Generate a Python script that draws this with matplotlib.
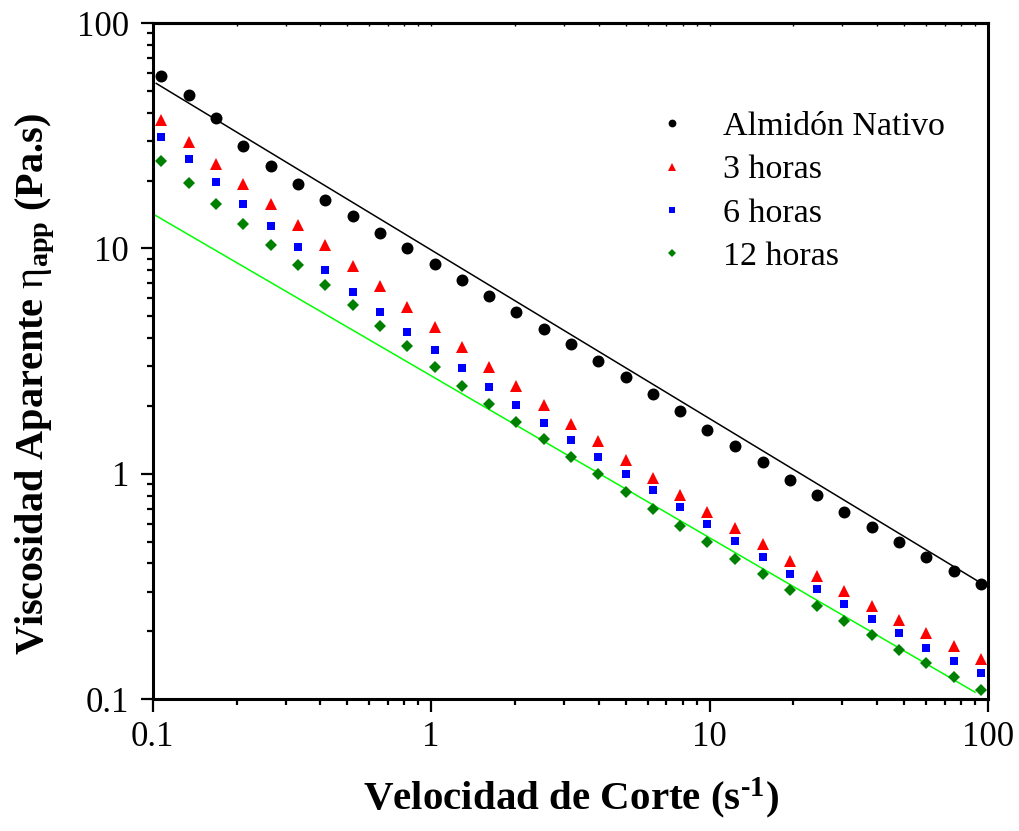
import numpy as np
import matplotlib
matplotlib.use('Agg')
import matplotlib.pyplot as plt

plt.rcParams['font.family'] = ['Liberation Serif', 'DejaVu Serif']
plt.rcParams['mathtext.fontset'] = 'custom'
plt.rcParams['mathtext.rm'] = 'Liberation Serif'
plt.rcParams['mathtext.bf'] = 'Liberation Serif:bold'
plt.rcParams['mathtext.it'] = 'Liberation Serif:italic'

# shear rate (1/s)
shear = [0.107, 0.135, 0.169, 0.211, 0.265, 0.332, 0.416, 0.523, 0.654, 0.819,
         1.03, 1.29, 1.61, 2.02, 2.54, 3.18, 3.99, 5.00, 6.25, 7.83,
         9.82, 12.3, 15.5, 19.4, 24.3, 30.5, 38.2, 47.9, 60.1, 75.4, 94.4]

# apparent viscosity (Pa.s)
nativo = [58.2, 48.1, 38.0, 28.5, 23.2, 19.4, 16.4, 13.9, 11.7, 10.0,
          8.52, 7.23, 6.16, 5.23, 4.40, 3.75, 3.16, 2.69, 2.26, 1.90,
          1.57, 1.33, 1.13, 0.937, 0.801, 0.678, 0.578, 0.497, 0.426, 0.371, 0.324]
h3 = [37.1, 29.7, 23.8, 19.3, 15.7, 12.7, 10.3, 8.37, 6.80, 5.49,
      4.46, 3.65, 2.98, 2.45, 2.02, 1.67, 1.39, 1.15, 0.959, 0.804,
      0.678, 0.572, 0.486, 0.411, 0.351, 0.301, 0.259, 0.224, 0.196, 0.172, 0.150]
h6 = [31.3, 25.0, 19.8, 15.8, 12.6, 10.1, 7.99, 6.42, 5.22, 4.26,
      3.53, 2.93, 2.43, 2.02, 1.68, 1.41, 1.19, 1.00, 0.843, 0.709,
      0.596, 0.502, 0.425, 0.359, 0.308, 0.264, 0.226, 0.196, 0.169, 0.148, 0.130]
h12 = [24.4, 19.6, 15.8, 12.8, 10.3, 8.43, 6.85, 5.58, 4.53, 3.67,
       2.99, 2.45, 2.03, 1.70, 1.42, 1.19, 0.993, 0.829, 0.699, 0.587,
       0.497, 0.419, 0.357, 0.304, 0.259, 0.222, 0.192, 0.165, 0.144, 0.125, 0.110]

# power law fits  eta = K * gamma^(n-1)
K_nativo, m_nativo = 9.84, -0.7485
K_h12, m_h12 = 2.72, -0.7188
fit_nativo_x = [0.103, 94.4]
fit_h12_x = [0.1, 89.9]

fig = plt.figure(figsize=(10.2, 8.31), dpi=100)
ax = fig.add_axes([0.1497, 0.1588, 0.8189, 0.8135])

xn = np.array(fit_nativo_x)
ax.plot(xn, K_nativo*xn**m_nativo, '-', color='black', lw=1.1, zorder=2)
xg = np.array(fit_h12_x)
ax.plot(xg, K_h12*xg**m_h12, '-', color='#00ff00', lw=1.1, zorder=2)

ax.plot(shear, nativo, 'o', color='black', ms=8.6, mew=0, label='Almidón Nativo', zorder=3)
ax.plot(shear, h3, '^', color='red', ms=8.5, mew=0, label='3 horas', zorder=3)
ax.plot(shear, h6, 's', color='blue', ms=6.2, mew=0, label='6 horas', zorder=3)
ax.plot(shear, h12, 'D', color='green', ms=6.2, mew=0, label='12 horas', zorder=3)

ax.set_xscale('log')
ax.set_yscale('log')
ax.set_xlim(0.1, 100)
ax.set_ylim(0.1, 100)
ax.set_xticks([0.1, 1, 10, 100])
ax.set_xticklabels(['0.1', '1', '10', '100'])
ax.set_yticks([0.1, 1, 10, 100])
ax.set_yticklabels(['0.1', '1', '10', '100'])

for s in ax.spines.values():
    s.set_linewidth(2.2)
ax.tick_params(which='major', direction='out', length=9, width=1.6, labelsize=25, pad=7,
               top=False, right=False)
ax.tick_params(which='minor', direction='out', length=4.5, width=1.6, top=False, right=False)
ax.tick_params(axis='y', which='major', pad=8)

# faint inward ticks on the top axis
top = ax.secondary_xaxis('top')
top.tick_params(which='both', direction='in', length=2.5, width=1.0, labeltop=False)
top.set_xticks([0.1, 1, 10, 100])
top.spines['top'].set_linewidth(2.2)

ax.set_xlabel('Velocidad de Corte (s$^{\\mathbf{\u2010}\\mathbf{1}}$)', fontsize=29.5, fontweight='bold')
ax.set_ylabel(r'Viscosidad Aparente $\mathrm{\eta}_{\mathbf{app}}$ (Pa.s)', fontsize=29, fontweight='bold')
ax.xaxis.set_label_coords(0.501, -0.114)
ax.yaxis.set_label_coords(-0.115, 0.466)

leg = ax.legend(loc='upper left', bbox_to_anchor=(0.6017, 0.869), frameon=False, fontsize=24.5,
                markerscale=0.65, handlelength=1.0, handletextpad=1.0, labelspacing=0.36,
                borderpad=0, borderaxespad=0)

fig.savefig('out.png', dpi=100)
